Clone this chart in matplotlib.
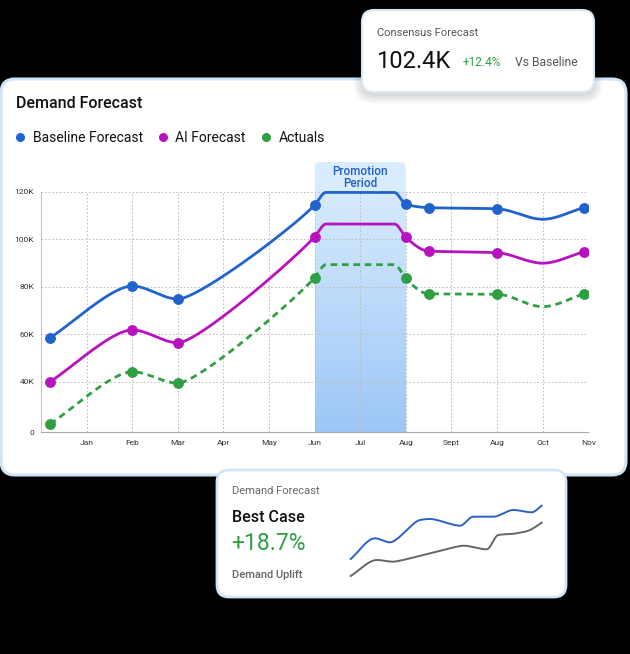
import numpy as np
import matplotlib
matplotlib.use("Agg")
import matplotlib.pyplot as plt
from matplotlib.patches import FancyBboxPatch
from matplotlib.lines import Line2D

plt.rcParams['font.family'] = ['Roboto', 'DejaVu Sans']

# ---------------- data ----------------
months = ['Jan', 'Feb', 'Mar', 'Apr', 'May', 'Jun', 'Jul', 'Aug', 'Sept', 'Aug', 'Oct', 'Nov']
month_idx = [1, 2, 3, 4, 5, 6, 7, 8, 9, 10, 11, 12]

x_points = [0.2, 2, 3, 6, 6.25, 7.75, 8, 8.5, 10, 11, 11.9]
marked = [True, True, True, True, False, False, True, True, True, False, True]
baseline = [58.5, 80.3, 74.8, 114.4, 119.7, 119.7, 114.7, 113.3, 112.8, 108.4, 113.3]
ai_forecast = [40.0, 61.8, 56.4, 101.0, 106.4, 106.4, 100.9, 95.0, 94.3, 89.9, 94.7]
actuals = [6.6, 44.2, 38.9, 83.8, 89.3, 89.3, 83.5, 77.0, 76.8, 71.6, 77.0]

promo_start, promo_end = 6, 8

y_ticks = [0, 40, 60, 80, 100, 120]
y_labels = ['0', '40K', '60K', '80K', '100K', '120K']

spark_x_blue = [0.7, 25, 40, 70, 80, 110, 123.3, 143.3, 163.3, 181.7, 191.7]
spark_blue = [41, 61.7, 57.7, 80, 81, 74.3, 83.3, 83.3, 90, 87.7, 94.3]
spark_x_gray = [0.7, 26.7, 43.3, 113.3, 136.7, 148.3, 166.7, 180, 191.7]
spark_gray = [24, 40, 38.3, 54.3, 50.7, 65, 66.7, 70, 77.3]

C_BASE = '#2063cc'
C_AI = '#b812bf'
C_ACT = '#2f9f43'


# ---------------- helpers ----------------
def fwd(v):
    v = np.asarray(v, dtype=float)
    return np.where(v < 40, 18.7 + v * 21.3 / 40.0, v)


def inv(u):
    u = np.asarray(u, dtype=float)
    return np.where(u < 40, (u - 18.7) * 40.0 / 21.3, u)


def smooth(x, y, cmax=0.45, n=40):
    """Bezier curve through points with monotone tangents and capped handle length."""
    x = np.asarray(x, float)
    y = np.asarray(y, float)
    h = np.diff(x)
    d = np.diff(y) / h
    m = np.zeros_like(y)
    for k in range(1, len(y) - 1):
        s0, s1 = d[k - 1], d[k]
        p = (s0 * h[k] + s1 * h[k - 1]) / (h[k - 1] + h[k])
        m[k] = (np.sign(s0) + np.sign(s1)) * min(abs(s0), abs(s1), 0.5 * abs(p))
    m[0] = d[0]
    m[-1] = d[-1]
    xs, ys = [], []
    t = np.linspace(0, 1, n)[:, None]
    for k in range(len(h)):
        c = min(h[k] / 3, cmax)
        P0 = np.array([x[k], y[k]])
        P1 = np.array([x[k] + c, y[k] + c * m[k]])
        P2 = np.array([x[k + 1] - c, y[k + 1] - c * m[k + 1]])
        P3 = np.array([x[k + 1], y[k + 1]])
        B = (1 - t)**3 * P0 + 3 * (1 - t)**2 * t * P1 + 3 * (1 - t) * t**2 * P2 + t**3 * P3
        xs.append(B[:, 0])
        ys.append(B[:, 1])
    return np.concatenate(xs), np.concatenate(ys)


# ---------------- figure ----------------
W, H = 630, 654
fig = plt.figure(figsize=(W / 100, H / 100), dpi=100, facecolor='black')

bg = fig.add_axes([0, 0, 1, 1])
bg.set_xlim(0, W)
bg.set_ylim(H, 0)
bg.axis('off')
bg.set_zorder(0)
bg.patch.set_alpha(0)


def card(x, y, w, h, r, ec, lw, z):
    bg.add_patch(FancyBboxPatch((x, y), w, h, boxstyle=f'round,pad=0,rounding_size={r}',
                                fc='white', ec=ec, lw=lw, zorder=z))


def shadow(x, y, w, h, r, z):
    for i in range(6):
        e = 1 + i * 1.5
        bg.add_patch(FancyBboxPatch((x - e, y - e + 3), w + 2 * e, h + 2 * e,
                                    boxstyle=f'round,pad=0,rounding_size={r + e}',
                                    fc='black', ec='none', alpha=0.025, zorder=z))


card(1, 79, 625, 396, 14, '#cfe4f7', 2.2, 1)
shadow(362, 10, 232, 82, 12, 2)
card(362, 10, 232, 82, 12, '#d8e8f6', 1.5, 3)
card(217, 470, 349, 127, 12, '#d3e5f6', 2.0, 3)

# texts on cards
bg.text(16, 103, 'Demand Forecast', fontsize=11.5, fontweight='medium', color='#111', va='center', zorder=5)

bg.text(377, 33, 'Consensus Forecast', fontsize=8, color='#555', va='center', zorder=5)
bg.text(376, 62, '102.4K', fontsize=17, color='#111', va='center', zorder=5)
bg.text(463, 62, '+12.4%', fontsize=8.6, color='#2e9e44', va='center', zorder=5)
bg.text(515, 62, 'Vs Baseline', fontsize=8.7, color='#555', va='center', zorder=5)

bg.text(232, 491, 'Demand Forecast', fontsize=8, color='#666', va='center', zorder=5)
bg.text(232, 517, 'Best Case', fontsize=11.6, fontweight='medium', color='#111', va='center', zorder=5)
bg.text(231, 543, '+18.7%', fontsize=16.5, color='#2e9e44', va='center', zorder=5)
bg.text(232, 575, 'Demand Uplift', fontsize=8, fontweight='medium', color='#666', va='center', zorder=5)

# ---------------- main chart ----------------
ax_l, ax_r, ax_t, ax_b = 41, 588.3, 160, 432.3
ax = fig.add_axes([ax_l / W, 1 - ax_b / H, (ax_r - ax_l) / W, (ax_b - ax_t) / H])
ax.set_zorder(2)
ax.patch.set_alpha(0)
ax.set_yscale('function', functions=(fwd, inv))
ax.set_xlim(0, 12)
ax.set_ylim(0, 133.35)

# promotion band gradient
top_c = np.array([0xd6, 0xea, 0xfc]) / 255
bot_c = np.array([0x9b, 0xc6, 0xf6]) / 255
nstrip = 120
u_edges = np.linspace(18.7, 120, nstrip + 1)
for i in range(nstrip):
    f = (u_edges[i] + u_edges[i + 1]) / 2
    t = (f - 18.7) / (120 - 18.7)
    c = bot_c * (1 - t) + top_c * t
    ax.fill_between([promo_start, promo_end], inv(u_edges[i]), inv(u_edges[i + 1]) + 0.3,
                    color=c, lw=0, zorder=0.5, antialiased=False)
ax.add_patch(FancyBboxPatch((promo_start, 110), promo_end - promo_start, 22.5,
                            boxstyle='round,pad=0,rounding_size=0.12', mutation_aspect=19.2,
                            fc='#d8ecfd', ec='none', zorder=0.4))
ax.text((promo_start + promo_end) / 2, 126.0, 'Promotion\nPeriod', ha='center', va='center',
        fontsize=8.4, color='#1f5fc2', fontweight='medium', linespacing=0.92, zorder=3)

# grid
grid_kw = dict(colors='#bdbdbd', linestyles=(0, (1.5, 2)), lw=0.75, zorder=1)
ax.hlines(y_ticks[1:], 0, 12, **grid_kw)
ax.vlines(month_idx, 0, 120, **grid_kw)

for s in ['top', 'right']:
    ax.spines[s].set_visible(False)
ax.spines['left'].set_bounds(0, 120)
ax.spines['left'].set_color('#c4c4c4')
ax.spines['left'].set_linewidth(0.8)
ax.spines['bottom'].set_color('#aaaaaa')
ax.spines['bottom'].set_linewidth(0.8)

ax.set_xticks(month_idx, months)
ax.set_yticks(y_ticks, y_labels)
ax.minorticks_off()
ax.tick_params(axis='both', length=0, labelsize=6, colors='#333')
ax.tick_params(axis='x', pad=5.5)
ax.tick_params(axis='y', pad=5)

# series
xp = np.array(x_points)
mk = np.array(marked)
for vals, col, ls in [(baseline, C_BASE, '-'), (ai_forecast, C_AI, '-'), (actuals, C_ACT, (0, (2.4, 1.7)))]:
    xs, us = smooth(xp, fwd(vals))
    ax.plot(xs, inv(us), color=col, lw=2.0, ls=ls, zorder=4, solid_capstyle='round')
    ax.plot(xp[mk], np.array(vals)[mk], 'o', color=col, ms=6.8, zorder=5)

handles = [Line2D([], [], marker='o', ls='none', color=c, ms=5.5) for c in (C_BASE, C_AI, C_ACT)]
ax.legend(handles, ['Baseline Forecast', 'AI Forecast', 'Actuals'], loc='center left',
          bbox_to_anchor=(14.5, 138), bbox_transform=bg.transData, ncol=3, frameon=False,
          fontsize=10, handlelength=0.8, handletextpad=0.5, columnspacing=1.05,
          borderpad=0, borderaxespad=0, labelcolor='#111')

# ---------------- sparkline ----------------
sp = fig.add_axes([345 / W, 1 - 582 / H, 200 / W, 82 / H])
sp.set_zorder(3)
sp.patch.set_alpha(0)
sp.axis('off')
sp.set_xlim(-5, 195)
sp.set_ylim(18, 100)
xs, ys = smooth(spark_x_blue, spark_blue, cmax=8)
sp.plot(xs, ys, color='#2a62c4', lw=1.4)
xs, ys = smooth(spark_x_gray, spark_gray, cmax=8)
sp.plot(xs, ys, color='#666666', lw=1.4)

fig.savefig('out.png', dpi=100, facecolor='black')
